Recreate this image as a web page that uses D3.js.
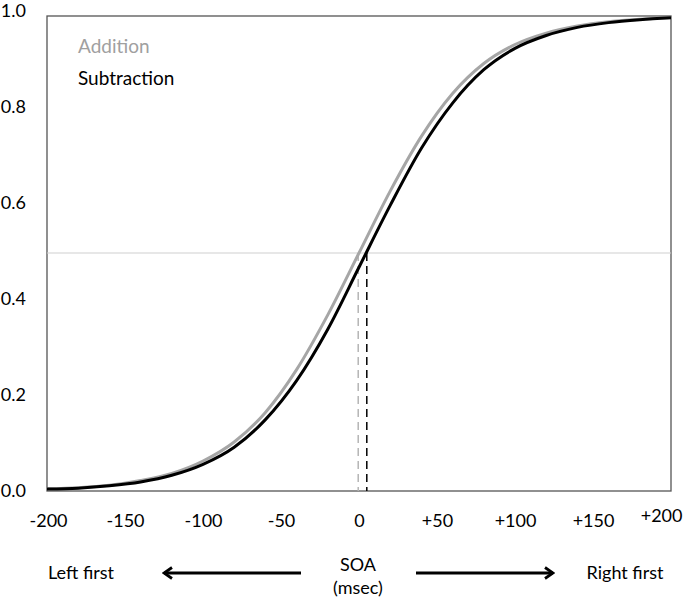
<!DOCTYPE html>
<html>
<head>
<meta charset="utf-8">
<script src="https://cdn.jsdelivr.net/npm/d3@7.9.0/dist/d3.min.js"></script>
<style>
  html, body { margin: 0; padding: 0; background: #fff; }
  svg text { font-family: Lato, "Open Sans", sans-serif; }
</style>
</head>
<body>
<svg id="chart" width="685" height="599"></svg>
<script>
/* ──── data ──── */
const soa         = [-200, -180, -160, -140, -120, -100, -80, -60, -40, -20, 0, 20, 40, 60, 80, 100, 120, 140, 160, 180, 200];
const addition    = [0.0045, 0.007, 0.012, 0.022, 0.037, 0.063, 0.103, 0.165, 0.255, 0.37, 0.50, 0.63, 0.745, 0.835, 0.898, 0.938, 0.962, 0.977, 0.986, 0.991, 0.995];
const subtraction = [0.004, 0.006, 0.011, 0.019, 0.033, 0.056, 0.092, 0.15, 0.232, 0.34, 0.47, 0.60, 0.72, 0.815, 0.885, 0.93, 0.957, 0.974, 0.984, 0.99, 0.994];
const pse         = [{ name: 'Addition', x: -0.5 }, { name: 'Subtraction', x: 5 }];
const xTicks      = [-200, -150, -100, -50, 0, 50, 100, 150, 200];
const yTicks      = [0, 0.2, 0.4, 0.6, 0.8, 1.0];
const legend      = ['Addition', 'Subtraction'];

const colors = { Addition: '#a6a6a6', Subtraction: '#000' };

/* ──── layout ──── */
const svg   = d3.select('#chart');
const plot  = { left: 47, right: 671, top: 16, bottom: 491 };

const x = d3.scaleLinear().domain([-200, 200]).range([plot.left, plot.right]);
const y = d3.scaleLinear().domain([0, 1]).range([plot.bottom, 15]);
const yLabel = d3.scaleLinear().domain([0, 1]).range([490.5, 11]);   // labels sit a bit looser than the box

/* plot frame */
svg.append('rect')
   .attr('x', plot.left).attr('y', plot.top)
   .attr('width', plot.right - plot.left).attr('height', plot.bottom - plot.top)
   .attr('fill', 'none').attr('stroke', '#555').attr('stroke-width', 1.3);

/* 0.5 reference line */
svg.append('line')
   .attr('x1', plot.left).attr('x2', plot.right)
   .attr('y1', y(0.5)).attr('y2', y(0.5))
   .attr('stroke', '#cfcfcf').attr('stroke-width', 1.2);

/* dashed PSE markers */
svg.selectAll('line.pse')
   .data(pse)
   .join('line')
   .attr('class', 'pse')
   .attr('x1', d => x(d.x)).attr('x2', d => x(d.x))
   .attr('y1', y(0.5)).attr('y2', plot.bottom)
   .attr('stroke', d => d.name === 'Addition' ? '#b5b5b5' : '#000')
   .attr('stroke-width', 1.5)
   .attr('stroke-dasharray', '8,5');

/* curves */
const line = d3.line()
  .x((d, i) => x(soa[i]))
  .y(d => y(d))
  .curve(d3.curveMonotoneX);

svg.append('path').datum(addition)
   .attr('d', line).attr('fill', 'none')
   .attr('stroke', colors.Addition).attr('stroke-width', 3);

svg.append('path').datum(subtraction)
   .attr('d', line).attr('fill', 'none')
   .attr('stroke', colors.Subtraction).attr('stroke-width', 3);

/* axes (labels only) */
const yAxis = svg.append('g')
   .attr('transform', 'translate(26,0)')
   .call(d3.axisLeft(yLabel).tickValues(yTicks).tickFormat(d3.format('.1f')).tickSize(0).tickPadding(0));
yAxis.select('.domain').remove();
yAxis.selectAll('text').attr('font-size', 18).attr('fill', '#000').attr('font-family', 'Lato, sans-serif');

const xAxis = svg.append('g')
   .attr('transform', 'translate(0,514)')
   .call(d3.axisBottom(x).tickValues(xTicks).tickFormat(d => d > 0 ? '+' + d : d).tickSize(0).tickPadding(0));
xAxis.select('.domain').remove();
xAxis.selectAll('text').attr('font-size', 18).attr('fill', '#000').attr('font-family', 'Lato, sans-serif');
xAxis.selectAll('.tick').filter(d => d === 200).select('text')
     .attr('text-anchor', 'end').attr('x', 11).attr('dy', '0.45em');
xAxis.selectAll('.tick').filter(d => d === -200).select('text').attr('x', 1);

/* legend */
svg.selectAll('text.legend')
   .data(legend)
   .join('text')
   .attr('class', 'legend')
   .attr('x', 78)
   .attr('y', (d, i) => 53 + i * 32)
   .attr('font-size', 19)
   .attr('fill', d => d === 'Addition' ? '#a0a0a0' : '#000')
   .text(d => d);

/* bottom annotation */
const defs = svg.append('defs');
defs.append('marker')
    .attr('id', 'head')
    .attr('viewBox', '0 0 12 14')
    .attr('refX', 10).attr('refY', 7)
    .attr('markerWidth', 12).attr('markerHeight', 14)
    .attr('markerUnits', 'userSpaceOnUse')
    .attr('orient', 'auto')
  .append('path')
    .attr('d', 'M2,1.5 L10,7 L2,12.5')
    .attr('fill', 'none').attr('stroke', '#000').attr('stroke-width', 2.8);

const ann = svg.append('g').attr('font-size', 18).attr('fill', '#000');
ann.append('text').attr('x', 81).attr('y', 579).attr('text-anchor', 'middle').text('Left first');
ann.append('text').attr('x', 625).attr('y', 579).attr('text-anchor', 'middle').text('Right first');
ann.append('text').attr('x', 358).attr('y', 571).attr('text-anchor', 'middle').text('SOA');
ann.append('text').attr('x', 358).attr('y', 594).attr('text-anchor', 'middle').text('(msec)');

svg.append('line')
   .attr('x1', 301).attr('x2', 164).attr('y1', 573).attr('y2', 573)
   .attr('stroke', '#000').attr('stroke-width', 3).attr('marker-end', 'url(#head)');
svg.append('line')
   .attr('x1', 416).attr('x2', 553).attr('y1', 573).attr('y2', 573)
   .attr('stroke', '#000').attr('stroke-width', 3).attr('marker-end', 'url(#head)');
</script>
</body>
</html>
